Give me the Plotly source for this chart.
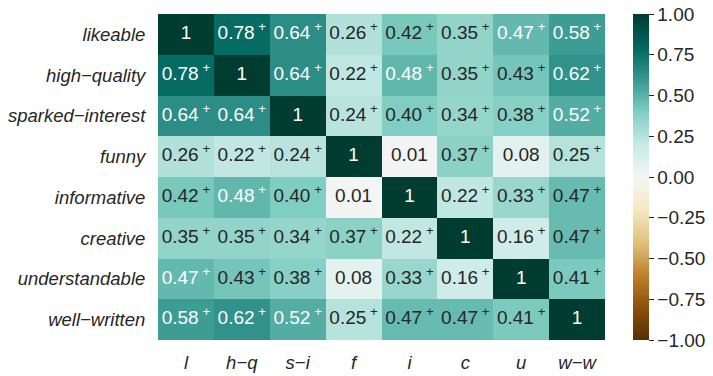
import plotly.graph_objects as go

row_labels = ["likeable", "high−quality", "sparked−interest", "funny",
              "informative", "creative", "understandable", "well−written"]
col_labels = ["l", "h−q", "s−i", "f", "i", "c", "u", "w−w"]

values = [
    [1.00, 0.78, 0.64, 0.26, 0.42, 0.35, 0.474, 0.58],
    [0.78, 1.00, 0.64, 0.22, 0.48, 0.35, 0.43, 0.62],
    [0.64, 0.64, 1.00, 0.24, 0.40, 0.34, 0.38, 0.52],
    [0.26, 0.22, 0.24, 1.00, 0.01, 0.37, 0.08, 0.25],
    [0.42, 0.48, 0.40, 0.01, 1.00, 0.22, 0.33, 0.466],
    [0.35, 0.35, 0.34, 0.37, 0.22, 1.00, 0.16, 0.466],
    [0.474, 0.43, 0.38, 0.08, 0.33, 0.16, 1.00, 0.41],
    [0.58, 0.62, 0.52, 0.25, 0.466, 0.466, 0.41, 1.00],
]
significant = [
    [0, 1, 1, 1, 1, 1, 1, 1],
    [1, 0, 1, 1, 1, 1, 1, 1],
    [1, 1, 0, 1, 1, 1, 1, 1],
    [1, 1, 1, 0, 0, 1, 0, 1],
    [1, 1, 1, 0, 0, 1, 1, 1],
    [1, 1, 1, 1, 1, 0, 1, 1],
    [1, 1, 1, 0, 1, 1, 0, 1],
    [1, 1, 1, 1, 1, 1, 1, 0],
]
cbar_ticks = [-1, -0.75, -0.5, -0.25, 0, 0.25, 0.5, 0.75, 1]
cbar_labels = ["−1.00", "−0.75", "−0.50", "−0.25", "0.00", "0.25", "0.50", "0.75", "1.00"]

FONT = "Liberation Sans, Arial, sans-serif"
DARK = "#262626"

fig = go.Figure()
fig.add_trace(go.Heatmap(
    z=values, x=col_labels, y=row_labels,
    colorscale="BrBG", zmin=-1, zmax=1, xgap=0, ygap=0,
    hoverinfo="skip",
    colorbar=dict(
        thickness=16, len=1.0, lenmode="fraction", y=0.5, yanchor="middle",
        x=1.0626, xanchor="left", xpad=0, ypad=0, outlinewidth=0,
        tickvals=cbar_ticks,
        ticktext=cbar_labels,
        ticklabeloverflow="allow",
        ticks="outside", ticklen=5, tickwidth=1, tickcolor=DARK,
        tickfont=dict(family=FONT, size=19, color=DARK),
    ),
))

xs, ys, texts, colors = [], [], [], []
for i, r in enumerate(row_labels):
    for j, c in enumerate(col_labels):
        v = values[i][j]
        if v >= 0.999:
            t = "1"
        else:
            t = f"{v:.2f}" + ("<sup> +</sup>" if significant[i][j] else "")
        xs.append(c)
        ys.append(r)
        texts.append(t)
        colors.append("white" if v > 0.47 else DARK)

fig.add_trace(go.Scatter(
    x=xs, y=ys, mode="text", text=texts,
    textfont=dict(family=FONT, size=19, color=colors),
    hoverinfo="skip", showlegend=False,
))

fig.update_layout(
    width=713, height=376,
    margin=dict(l=158, r=108, t=14, b=36, autoexpand=False),
    paper_bgcolor="white", plot_bgcolor="white",
    showlegend=False,
    xaxis=dict(
        showgrid=False, zeroline=False, showline=False,
        ticks="outside", ticklen=6, tickcolor="rgba(0,0,0,0)",
        tickfont=dict(family=FONT, size=18.5, color=DARK),
        tickvals=col_labels, ticktext=[f"<i>{c}</i>" for c in col_labels],
    ),
    yaxis=dict(
        autorange="reversed",
        showgrid=False, zeroline=False, showline=False,
        ticks="outside", ticklen=8, tickcolor="rgba(0,0,0,0)",
        tickfont=dict(family=FONT, size=18.5, color=DARK),
        tickvals=row_labels, ticktext=[f"<i>{r}</i>" for r in row_labels],
    ),
)

fig.write_html(
    "out.html",
    config={"displayModeBar": False},
    post_script="document.body.style.margin='0';document.body.style.overflow='hidden';",
)
